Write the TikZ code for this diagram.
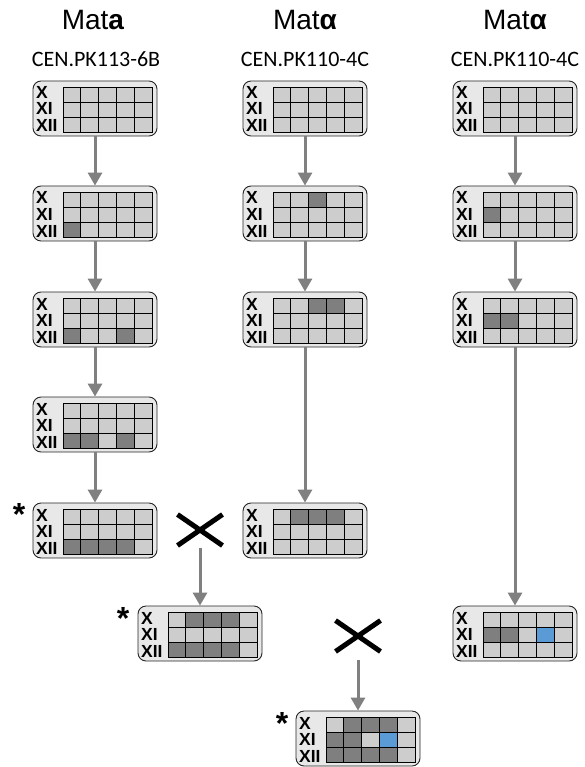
\documentclass[tikz,border=0pt]{standalone}
\usepackage{fontspec}
\setmainfont{Liberation Sans}
\newfontfamily\arialf{Liberation Sans}
\newfontfamily\calib{Carlito}
\usetikzlibrary{arrows.meta,shapes.misc}
\definecolor{cL}{HTML}{CDCDCD}
\definecolor{cD}{HTML}{7F7F7F}
\definecolor{cB}{HTML}{5B9BD5}
\definecolor{boxfill}{HTML}{E8E8E8}
\definecolor{arrowgray}{HTML}{808080}
\tikzset{
  sbox/.style={draw=black!85, fill=boxfill, rounded corners=8pt, line width=0.9pt,
    minimum width=124pt, minimum height=55pt, inner sep=0pt},
  chrom/.style={font=\arialf\bfseries\fontsize{17.5}{17.5}\selectfont, inner sep=0pt, anchor=base west},
  cellbox/.style={draw=black, line width=0.9pt},
  flow/.style={draw=arrowgray, line width=3pt, -{Triangle[length=13pt,width=14pt]}},
  crossmark/.style={cross out, draw=black, line width=5pt, minimum width=40pt,
    minimum height=26pt, inner sep=0pt},
  starmark/.style={font=\arialf\bfseries\fontsize{32}{32}\selectfont, inner sep=0pt, anchor=north},
  titletext/.style={font=\arialf\fontsize{28}{28}\selectfont, inner sep=0pt, anchor=base},
  straintext/.style={font=\calib\fontsize{22}{22}\selectfont, inner sep=0pt, anchor=base},
}
% name, left x, top y, row X, row XI, row XII
\newcommand{\strainbox}[6]{%
  \node[sbox] (#1) at ({#2+62},{#3+27.5}) {};
  \node[chrom] (#1-x) at ({#2+3},{#3+18}) {X};
  \node[chrom] (#1-xi) at ({#2+3},{#3+34}) {XI};
  \node[chrom] (#1-xii) at ({#2+3},{#3+51}) {XII};
  \foreach \c [count=\i] in {#4} {\filldraw[cellbox, fill=c\c] ({#2+30+(\i-1)*17.8},{#3+6}) rectangle ++(17.8,15);}
  \foreach \c [count=\i] in {#5} {\filldraw[cellbox, fill=c\c] ({#2+30+(\i-1)*17.8},{#3+21}) rectangle ++(17.8,15);}
  \foreach \c [count=\i] in {#6} {\filldraw[cellbox, fill=c\c] ({#2+30+(\i-1)*17.8},{#3+36}) rectangle ++(17.8,15);}
}
\begin{document}
\begin{tikzpicture}[x=1pt,y=-1pt]
\useasboundingbox (0,0) rectangle (584,767);
% titles
\node[titletext] (t1) at (93,30) {Mat\textbf{a}};
\node[titletext] (t2) at (305,30) {Mat\textbf{α}};
\node[titletext] (t3) at (515,30) {Mat\textbf{α}};
\node[straintext] (s1) at (96,67) {CEN.PK113-6B};
\node[straintext] (s2) at (305,67) {CEN.PK110-4C};
\node[straintext] (s3) at (515,67) {CEN.PK110-4C};
% column 1
\strainbox{a1}{33}{81}{L,L,L,L,L}{L,L,L,L,L}{L,L,L,L,L}
\strainbox{a2}{33}{186}{L,L,L,L,L}{L,L,L,L,L}{D,L,L,L,L}
\strainbox{a3}{33}{292}{L,L,L,L,L}{L,L,L,L,L}{D,L,L,D,L}
\strainbox{a4}{33}{397}{L,L,L,L,L}{L,L,L,L,L}{D,D,L,D,L}
\strainbox{a5}{33}{503}{L,L,L,L,L}{L,L,L,L,L}{D,D,D,D,L}
% column 2
\strainbox{b1}{243}{81}{L,L,L,L,L}{L,L,L,L,L}{L,L,L,L,L}
\strainbox{b2}{243}{186}{L,L,D,L,L}{L,L,L,L,L}{L,L,L,L,L}
\strainbox{b3}{243}{292}{L,L,D,D,L}{L,L,L,L,L}{L,L,L,L,L}
\strainbox{b4}{243}{503}{L,D,D,D,L}{L,L,L,L,L}{L,L,L,L,L}
% column 3
\strainbox{c1}{453}{81}{L,L,L,L,L}{L,L,L,L,L}{L,L,L,L,L}
\strainbox{c2}{453}{186}{L,L,L,L,L}{D,L,L,L,L}{L,L,L,L,L}
\strainbox{c3}{453}{292}{L,L,L,L,L}{D,D,L,L,L}{L,L,L,L,L}
\strainbox{c4}{453}{606}{L,L,L,L,L}{D,D,L,B,L}{L,L,L,L,L}
% crosses
\strainbox{m1}{138}{606}{L,D,D,D,L}{L,L,L,L,L}{D,D,D,D,L}
\strainbox{m2}{296}{711}{L,D,D,D,L}{D,D,L,B,L}{D,D,D,D,L}
\node[crossmark] (xa) at (200,530) {};
\node[crossmark] (xb) at (358,636) {};
\coordinate (xaout) at (200,548);
\coordinate (xbout) at (358,660);
% stars
\node[starmark] (st1) at (19,503) {*};
\node[starmark] (st2) at (123,607) {*};
\node[starmark] (st3) at (282,712) {*};
% arrows
\draw[flow] (a1.south) -- (a2.north);
\draw[flow] (a2.south) -- (a3.north);
\draw[flow] (a3.south) -- (a4.north);
\draw[flow] (a4.south) -- (a5.north);
\draw[flow] (b1.south) -- (b2.north);
\draw[flow] (b2.south) -- (b3.north);
\draw[flow] (b3.south) -- (b4.north);
\draw[flow] (c1.south) -- (c2.north);
\draw[flow] (c2.south) -- (c3.north);
\draw[flow] (c3.south) -- (c4.north);
\draw[flow] (xaout) -- (m1.north);
\draw[flow] (xbout) -- (m2.north);
\end{tikzpicture}
\end{document}
